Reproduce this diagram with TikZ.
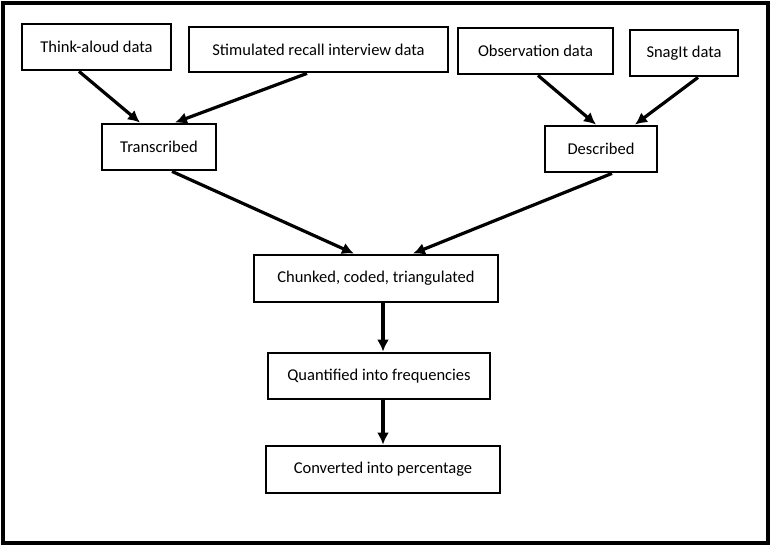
\documentclass[tikz,border=0pt]{standalone}
\usepackage{fontspec}
\setmainfont{Carlito}
\usetikzlibrary{arrows.meta}

\begin{document}
\begin{tikzpicture}[x=1pt,y=-1pt,
    box/.style={draw,line width=2.8pt,inner sep=0pt,align=center,
                font=\fontsize{16.5}{20}\selectfont},
    flow/.style={line width=3.2pt,-{Latex[length=12pt,width=12pt]}}]
    \useasboundingbox (0,0) rectangle (772,546);
    \draw[line width=3.5pt] (3,3) rectangle (768,543);
    % data sources
    \node[box,minimum width=149pt,minimum height=46pt] (think) at (96.5,47) {Think-aloud data};
    \node[box,minimum width=259pt,minimum height=45pt] (stim) at (318.5,49.5) {Stimulated recall interview data};
    \node[box,minimum width=155pt,minimum height=46pt] (obs) at (535.5,51) {Observation data};
    \node[box,minimum width=108pt,minimum height=46pt] (snag) at (684,53) {SnagIt data};
    % first processing
    \node[box,minimum width=114pt,minimum height=46pt] (trans) at (159,147) {Transcribed};
    \node[box,minimum width=112pt,minimum height=46pt] (desc) at (601,149) {Described};
    % analysis steps
    \node[box,minimum width=244pt,minimum height=47pt] (chunk) at (376,278.5) {Chunked, coded, triangulated};
    \node[box,minimum width=222pt,minimum height=46pt] (quant) at (379,376) {Quantified into frequencies};
    \node[box,minimum width=234pt,minimum height=47pt] (conv) at (383,469.5) {Converted into percentage};
    \draw[flow] ([xshift=-17.5pt]think.south) -- ([xshift=-19pt]trans.north);
    \draw[flow] ([xshift=-11.5pt]stim.south) -- ([xshift=16pt]trans.north);
    \draw[flow] ([xshift=2.5pt]obs.south) -- ([xshift=-5pt]desc.north);
    \draw[flow] ([xshift=14pt]snag.south) -- ([xshift=34pt]desc.north);
    \draw[flow] ([xshift=13pt]trans.south) -- ([xshift=-22pt]chunk.north);
    \draw[flow] ([xshift=11pt]desc.south) -- ([xshift=37pt]chunk.north);
    \draw[flow] (chunk.south -| conv) -- (quant.north -| conv);
    \draw[flow] (quant.south -| conv) -- (conv.north);
\end{tikzpicture}
\end{document}
